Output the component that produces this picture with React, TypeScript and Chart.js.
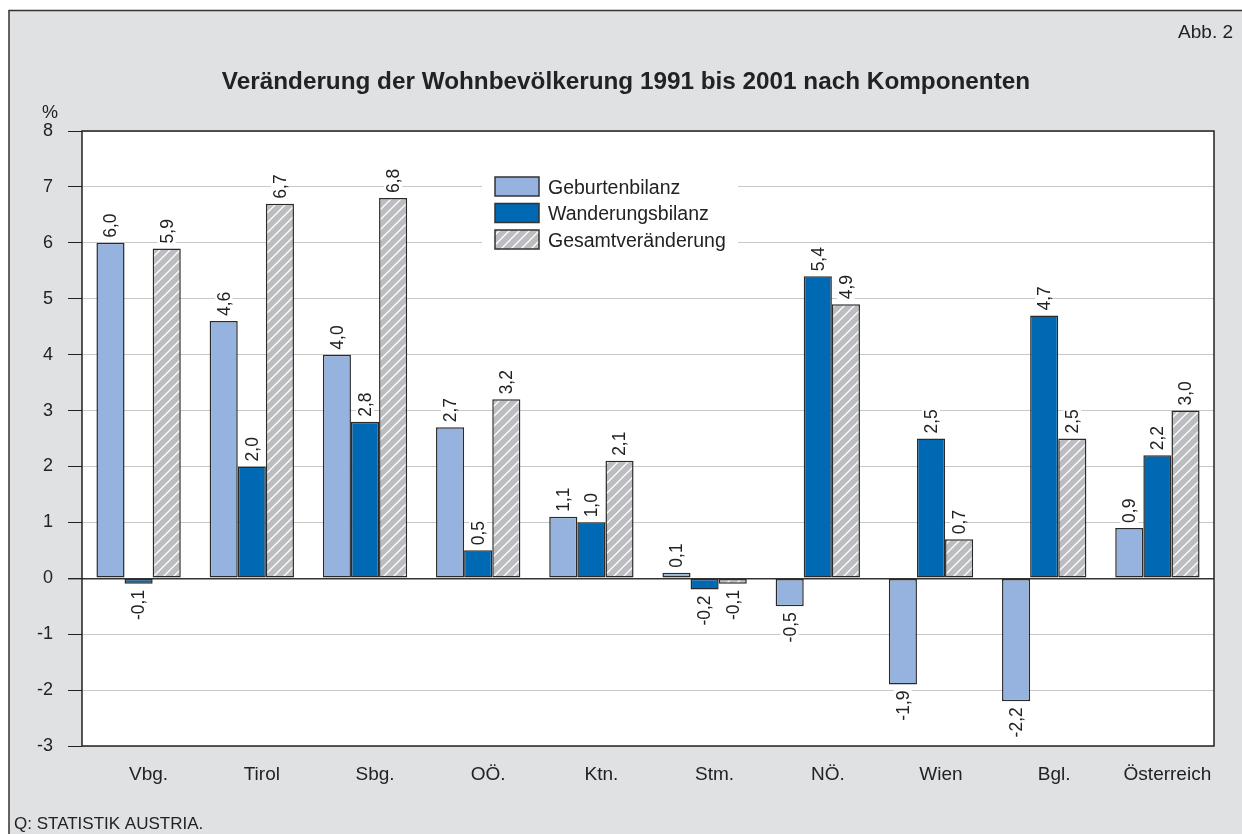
import React, { useEffect, useRef } from "react";
import { Chart, registerables } from "chart.js";

Chart.register(...registerables);

const categories = ["Vbg.", "Tirol", "Sbg.", "OÖ.", "Ktn.", "Stm.", "NÖ.", "Wien", "Bgl.", "Österreich"];
const geburtenbilanz = [6.0, 4.6, 4.0, 2.7, 1.1, 0.1, -0.5, -1.9, -2.2, 0.9];
const wanderungsbilanz = [-0.1, 2.0, 2.8, 0.5, 1.0, -0.2, 5.4, 2.5, 4.7, 2.2];
const gesamtveraenderung = [5.9, 6.7, 6.8, 3.2, 2.1, -0.1, 4.9, 0.7, 2.5, 3.0];
const seriesNames = ["Geburtenbilanz", "Wanderungsbilanz", "Gesamtveränderung"];
const yMin = -3;
const yMax = 8;
const titleText = "Veränderung der Wohnbevölkerung 1991 bis 2001 nach Komponenten";
const figureLabel = "Abb. 2";
const unitLabel = "%";
const sourceText = "Q: STATISTIK AUSTRIA.";

const FONT = "'Liberation Sans', Arial, Helvetica, sans-serif";
const BG = "#e0e1e3";
const INK = "#222222";

function makeHatch(): CanvasPattern | string {
  const c = document.createElement("canvas");
  c.width = 10;
  c.height = 10;
  const g = c.getContext("2d");
  if (!g) return "#bfc0c2";
  g.fillStyle = "#bcbdc0";
  g.fillRect(0, 0, 10, 10);
  g.strokeStyle = "#ffffff";
  g.lineWidth = 1.3;
  g.beginPath();
  g.moveTo(-1, 11);
  g.lineTo(11, -1);
  g.moveTo(-1, 1);
  g.lineTo(1, -1);
  g.moveTo(9, 11);
  g.lineTo(11, 9);
  g.stroke();
  return g.createPattern(c, "repeat") || "#bfc0c2";
}

export default function App() {
  const ref = useRef<HTMLCanvasElement | null>(null);

  useEffect(() => {
    const canvas = ref.current;
    if (!canvas) return;
    const hatch = makeHatch();
    const fills: any[] = ["#95b3de", "#0069b4", hatch];

    const framePlugin = {
      id: "frame",
      beforeDraw(chart: any) {
        const ctx = chart.ctx;
        const { left, right, top, bottom } = chart.chartArea;
        ctx.save();
        ctx.fillStyle = "#ffffff";
        ctx.fillRect(0, 0, chart.width, chart.height);
        ctx.fillStyle = BG;
        ctx.fillRect(9, 10.5, chart.width, chart.height);
        ctx.strokeStyle = "#333";
        ctx.lineWidth = 1.5;
        ctx.beginPath();
        ctx.moveTo(9, chart.height + 2);
        ctx.lineTo(9, 10.5);
        ctx.lineTo(chart.width + 2, 10.5);
        ctx.stroke();
        ctx.fillStyle = "#ffffff";
        ctx.fillRect(left, top, right - left, bottom - top);
        // texts
        ctx.fillStyle = INK;
        ctx.font = `bold 24.3px ${FONT}`;
        ctx.textAlign = "center";
        ctx.textBaseline = "alphabetic";
        ctx.fillText(titleText, 626, 89);
        ctx.font = `19px ${FONT}`;
        ctx.textAlign = "right";
        ctx.fillText(figureLabel, 1233, 38);
        ctx.font = `18px ${FONT}`;
        ctx.textAlign = "center";
        ctx.fillText(unitLabel, 50, 118);
        ctx.font = `17px ${FONT}`;
        ctx.textAlign = "left";
        ctx.fillText(sourceText, 14, 829);
        ctx.restore();
      },
      afterDatasetsDraw(chart: any) {
        const ctx = chart.ctx;
        ctx.save();
        ctx.font = `17.5px ${FONT}`;
        ctx.textBaseline = "middle";
        chart.data.datasets.forEach((ds: any, di: number) => {
          const meta = chart.getDatasetMeta(di);
          meta.data.forEach((bar: any, i: number) => {
            const v = ds.data[i] as number;
            const txt = v.toFixed(1).replace(".", ",");
            const w = ctx.measureText(txt).width;
            const neg = v < 0;
            const y = neg ? Math.max(bar.y, bar.base) + 6 : Math.min(bar.y, bar.base) - 5;
            ctx.save();
            ctx.translate(bar.x, y);
            ctx.rotate(-Math.PI / 2);
            ctx.fillStyle = "#ffffff";
            if (neg) ctx.fillRect(-w - 1, -9, w + 2, 18);
            else ctx.fillRect(-1, -9, w + 2, 18);
            ctx.fillStyle = INK;
            ctx.textAlign = neg ? "right" : "left";
            ctx.fillText(txt, 0, 1);
            ctx.restore();
          });
        });
        ctx.restore();
      },
      afterDraw(chart: any) {
        const ctx = chart.ctx;
        const { left, right, top, bottom } = chart.chartArea;
        ctx.save();
        // legend
        ctx.fillStyle = "#ffffff";
        ctx.fillRect(482, 168, 256, 88);
        ctx.font = `19.5px ${FONT}`;
        ctx.textBaseline = "alphabetic";
        ctx.textAlign = "left";
        seriesNames.forEach((name, i) => {
          const y = 177 + i * 26.5;
          ctx.fillStyle = fills[i];
          ctx.fillRect(495, y, 44, 19);
          ctx.strokeStyle = "#333";
          ctx.lineWidth = 1.5;
          ctx.strokeRect(495, y, 44, 19);
          ctx.fillStyle = INK;
          ctx.fillText(name, 548, y + 16.5);
        });
        // plot frame
        ctx.strokeStyle = "#222";
        ctx.lineWidth = 1.5;
        ctx.strokeRect(left, top, right - left, bottom - top);
        ctx.restore();
      },
    };

    const chart = new Chart(canvas, {
      type: "bar",
      data: {
        labels: categories,
        datasets: [
          { label: seriesNames[0], data: geburtenbilanz },
          { label: seriesNames[1], data: wanderungsbilanz },
          { label: seriesNames[2], data: gesamtveraenderung },
        ].map((d, i) => ({
          ...d,
          backgroundColor: fills[i],
          borderColor: "#2a2a2a",
          borderWidth: 1.5,
          borderSkipped: false,
          categoryPercentage: 0.745,
          barPercentage: 1.0,
        })),
      },
      options: {
        responsive: false,
        animation: false,
        devicePixelRatio: 1,
        layout: { padding: { left: 0, right: 28, top: 131, bottom: 0 } },
        plugins: { legend: { display: false }, tooltip: { enabled: false }, title: { display: false } },
        scales: {
          x: {
            grid: { display: false },
            border: { display: false },
            ticks: { font: { family: FONT, size: 19 }, color: INK, padding: 9, labelOffset: 10, maxRotation: 0, autoSkip: false },
            afterFit: (s: any) => { s.height = 88; },
          },
          y: {
            min: yMin,
            max: yMax,
            border: { display: false },
            grid: {
              color: (c: any) => (c.tick && c.tick.value === 0 ? "#333" : "#c8c8c8"),
              lineWidth: (c: any) => (c.tick && c.tick.value === 0 ? 1.4 : 1),
              tickColor: "#222",
              tickLength: 14,
              drawTicks: true,
            },
            ticks: { stepSize: 1, font: { family: FONT, size: 18 }, color: INK, padding: 15 },
            afterFit: (s: any) => { s.width = 82; },
          },
        },
      },
      plugins: [framePlugin],
    } as any);
    return () => chart.destroy();
  }, []);

  return (
    <div style={{ position: "absolute", left: 0, top: 0, width: 1242, height: 834, overflow: "hidden" }}>
      <canvas ref={ref} width={1242} height={834} style={{ width: 1242, height: 834, display: "block" }} />
    </div>
  );
}
